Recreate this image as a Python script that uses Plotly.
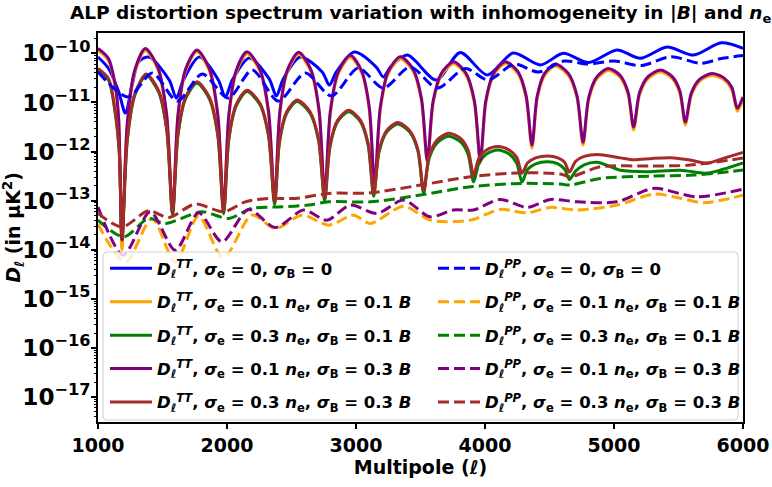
import numpy as np
import plotly.graph_objects as go

# ---------------- data (log10 of D_ell in uK^2) ----------------
# D_ell^TT, sigma_e = 0, sigma_B = 0
ell_tt_blue = [1000, 1082, 1160, 1212, 1264, 1315, 1395, 1552, 1607, 1662, 1785, 1932, 1987, 2042,
               2173, 2327, 2382, 2437, 2568, 2738, 2793, 2848, 2987, 3157, 3212, 3267, 3398, 3623,
               3808, 4018, 4219, 4429, 4607, 4803, 5023, 5204, 5411, 5617, 5832, 6000]
log_tt_blue = [-10.075, -10.31, -10.78, -11.217, -10.65, -10.17, -10.075, -10.544, -10.911, -10.544,
               -10.075, -10.54, -10.891, -10.54, -10.096, -10.52, -10.870, -10.52, -10.075, -10.38,
               -10.646, -10.38, -9.974, -10.28, -10.483, -10.28, -10.035, -10.544, -9.984, -10.442,
               -9.994, -10.238, -10.000, -10.188, -9.933, -10.102, -9.872, -10.035, -9.786, -9.898]

# D_ell^TT for the inhomogeneous cases (orange/purple share positions)
ell_tt_op = [1000, 1080, 1134, 1160, 1186, 1226, 1282, 1367, 1466, 1532, 1578, 1620, 1678, 1767,
             1864, 1928, 1974, 2014, 2070, 2155, 2256, 2322, 2369, 2410, 2468, 2555, 2650, 2713,
             2757, 2801, 2862, 2956, 3044, 3103, 3144, 3188, 3249, 3343, 3442, 3507, 3553, 3598,
             3661, 3757, 3854, 3918, 3964, 4006, 4066, 4157, 4254, 4318, 4364, 4404, 4460, 4545,
             4646, 4713, 4760, 4803, 4864, 4956, 5048, 5109, 5152, 5198, 5262, 5359, 5450, 5510,
             5553, 5599, 5663, 5760, 5852, 5913, 5956, 6000]
log_tt_purple = [-9.90, -10.10, -10.65, -11.32, -13.80, -11.46, -10.37, -9.90, -10.30, -11.24, -13.24,
                 -11.25, -10.33, -9.93, -10.32, -11.23, -13.19, -11.26, -10.36, -9.97, -10.33, -11.18,
                 -12.99, -11.18, -10.34, -9.98, -10.33, -11.14, -12.89, -11.18, -10.38, -10.04, -10.36,
                 -11.10, -12.68, -11.11, -10.38, -10.07, -10.32, -10.91, -12.18, -10.97, -10.41, -10.17,
                 -10.41, -10.97, -12.18, -10.97, -10.41, -10.17, -10.37, -10.85, -11.87, -10.88, -10.42,
                 -10.22, -10.41, -10.86, -11.81, -10.91, -10.49, -10.31, -10.45, -10.79, -11.50, -10.80,
                 -10.48, -10.34, -10.47, -10.76, -11.40, -10.81, -10.53, -10.41, -10.50, -10.69, -11.12,
                 -10.89]
log_tt_orange = [-9.94, -10.14, -10.69, -11.37, -14.00, -11.51, -10.41, -9.94, -10.34, -11.29, -13.30,
                 -11.30, -10.37, -9.97, -10.36, -11.28, -13.25, -11.31, -10.40, -10.01, -10.37, -11.23,
                 -13.05, -11.23, -10.38, -10.02, -10.37, -11.19, -12.95, -11.23, -10.42, -10.08, -10.40,
                 -11.15, -12.74, -11.16, -10.42, -10.11, -10.36, -10.96, -12.24, -11.02, -10.45, -10.21,
                 -10.45, -11.02, -12.24, -11.02, -10.45, -10.21, -10.41, -10.90, -11.93, -10.93, -10.46,
                 -10.26, -10.45, -10.91, -11.87, -10.96, -10.53, -10.35, -10.49, -10.84, -11.56, -10.85,
                 -10.52, -10.38, -10.51, -10.81, -11.46, -10.86, -10.57, -10.45, -10.54, -10.74, -11.18,
                 -10.94]

ell_tt_brown = [1000, 1082, 1134, 1165, 1186, 1227, 1286, 1374, 1470, 1533, 1578, 1620, 1678, 1767,
                1864, 1928, 1974, 2014, 2070, 2155, 2256, 2322, 2369, 2407, 2461, 2543, 2644, 2710,
                2757, 2798, 2856, 2943, 3034, 3094, 3137, 3178, 3236, 3324, 3418, 3480, 3524, 3567,
                3627, 3718, 3809, 3869, 3912, 3953, 4011, 4099, 4187, 4246, 4287, 4331, 4393, 4487,
                4565, 4617, 4654, 4702, 4769, 4871, 5048, 5152, 5300, 5463, 5600, 5721, 5847, 6000]
log_tt_brown = [-10.31, -10.52, -11.20, -12.00, -13.74, -11.75, -10.82, -10.42, -10.76, -11.54, -13.23,
                -11.64, -10.90, -10.58, -10.90, -11.63, -13.21, -11.73, -11.05, -10.75, -11.02, -11.66,
                -13.02, -11.78, -11.20, -10.95, -11.19, -11.75, -12.95, -11.88, -11.37, -11.16, -11.36,
                -11.84, -12.85, -11.99, -11.58, -11.41, -11.58, -11.96, -12.79, -12.09, -11.77, -11.63,
                -11.73, -11.97, -12.48, -12.13, -11.97, -11.90, -11.97, -12.12, -12.44, -12.23, -12.13,
                -12.09, -12.13, -12.22, -12.42, -12.20, -12.10, -12.06, -12.13, -12.17, -12.14, -12.13,
                -12.18, -12.24, -12.14, -12.02]

ell_tt_green = [1000, 1082, 1134, 1165, 1186, 1227, 1286, 1374, 1470, 1533, 1578, 1620, 1678, 1767,
                1864, 1928, 1974, 2014, 2070, 2155, 2256, 2322, 2369, 2407, 2461, 2543, 2644, 2710,
                2757, 2798, 2856, 2943, 3034, 3094, 3137, 3178, 3236, 3324, 3418, 3480, 3524, 3567,
                3627, 3718, 3809, 3869, 3912, 3953, 4011, 4099, 4187, 4246, 4287, 4331, 4393, 4487,
                4565, 4617, 4654, 4702, 4769, 4868, 5048, 5256, 5514, 5721, 5847, 6000]
log_tt_green = [-10.34, -10.55, -11.23, -12.03, -13.80, -11.78, -10.85, -10.45, -10.79, -11.57, -13.29,
                -11.67, -10.93, -10.61, -10.93, -11.66, -13.27, -11.76, -11.08, -10.78, -11.05, -11.69,
                -13.08, -11.81, -11.23, -10.98, -11.22, -11.78, -13.01, -11.91, -11.40, -11.19, -11.39,
                -11.87, -12.91, -12.02, -11.61, -11.44, -11.61, -11.99, -12.85, -12.14, -11.83, -11.69,
                -11.80, -12.06, -12.62, -12.24, -12.05, -11.97, -12.05, -12.24, -12.62, -12.36, -12.25,
                -12.21, -12.25, -12.36, -12.57, -12.40, -12.27, -12.22, -12.38, -12.41, -12.38, -12.44,
                -12.36, -12.23]

# D_ell^PP curves
ell_pp_blue = [1000, 1235, 1421, 1615, 1809, 2010, 2196, 2398, 2607, 2809, 3018, 3212, 3421, 3630,
               3847, 4025, 4227, 4413, 4615, 4793, 5002, 5212, 5444, 5669, 5832, 6000]
log_pp_blue = [-10.381, -10.891, -10.402, -10.972, -10.422, -10.911, -10.340, -10.972, -10.402,
               -10.870, -10.300, -10.707, -10.279, -10.707, -10.310, -10.544, -10.218, -10.381,
               -10.157, -10.218, -10.157, -10.249, -10.069, -10.204, -10.106, -10.045]

ell_pp_orange = [1000, 1212, 1419, 1599, 1780, 1971, 2194, 2374, 2581, 2788, 2981, 3111, 3369, 3576,
                 3886, 4119, 4326, 4506, 4713, 5023, 5307, 5489, 5695, 6000]
log_pp_orange = [-13.480, -14.254, -13.363, -14.254, -13.316, -14.172, -13.296, -13.567, -13.296,
                 -13.500, -13.296, -13.465, -13.113, -13.398, -13.398, -13.180, -13.249, -13.139,
                 -13.190, -13.092, -12.868, -12.935, -13.045, -12.888]

ell_pp_purple = [1000, 1196, 1405, 1599, 1780, 1961, 2167, 2374, 2594, 2775, 2956, 3163, 3369, 3576,
                 3754, 3909, 4119, 4326, 4506, 4713, 5023, 5307, 5643, 6000]
log_pp_purple = [-13.133, -14.111, -13.229, -14.009, -13.249, -13.840, -13.180, -13.547, -13.194,
                 -13.398, -13.092, -13.261, -12.990, -13.331, -13.190, -13.190, -12.976, -13.139,
                 -12.976, -13.025, -13.025, -12.752, -12.923, -12.766]

ell_pp_brown = [1000, 1186, 1392, 1547, 1754, 1974, 2142, 2322, 2530, 2788, 3111, 3499, 3886, 4274,
                4584, 4661, 4894, 5281, 5591, 6000]
log_pp_brown = [-13.261, -13.534, -13.208, -13.343, -13.072, -13.229, -13.025, -12.956, -12.956,
                -12.854, -12.842, -12.684, -12.515, -12.434, -12.460, -12.515, -12.311, -12.297,
                -12.277, -12.134]

ell_pp_green = [1000, 1199, 1392, 1522, 1806, 2012, 2194, 2426, 2633, 2788, 3111, 3499, 3886, 4274,
                4584, 4661, 4894, 5281, 5617, 6000]
log_pp_green = [-13.398, -13.738, -13.363, -13.465, -13.229, -13.363, -13.159, -13.127, -13.092,
                -13.025, -13.025, -12.888, -12.719, -12.650, -12.664, -12.684, -12.548, -12.501,
                -12.481, -12.379]

labels_tt = [
    "<b><i>D</i><sub><i>ℓ</i></sub><sup><i>TT</i></sup>, <i>σ</i><sub>e</sub> = 0, <i>σ</i><sub>B</sub> = 0</b>",
    "<b><i>D</i><sub><i>ℓ</i></sub><sup><i>TT</i></sup>, <i>σ</i><sub>e</sub> = 0.1 <i>n</i><sub>e</sub>, <i>σ</i><sub>B</sub> = 0.1 <i>B</i></b>",
    "<b><i>D</i><sub><i>ℓ</i></sub><sup><i>TT</i></sup>, <i>σ</i><sub>e</sub> = 0.3 <i>n</i><sub>e</sub>, <i>σ</i><sub>B</sub> = 0.1 <i>B</i></b>",
    "<b><i>D</i><sub><i>ℓ</i></sub><sup><i>TT</i></sup>, <i>σ</i><sub>e</sub> = 0.1 <i>n</i><sub>e</sub>, <i>σ</i><sub>B</sub> = 0.3 <i>B</i></b>",
    "<b><i>D</i><sub><i>ℓ</i></sub><sup><i>TT</i></sup>, <i>σ</i><sub>e</sub> = 0.3 <i>n</i><sub>e</sub>, <i>σ</i><sub>B</sub> = 0.3 <i>B</i></b>",
]
labels_pp = [s.replace("TT", "PP") for s in labels_tt]
colors = ["blue", "orange", "green", "purple", "brown"]

tt_series = [(ell_tt_blue, log_tt_blue), (ell_tt_op, log_tt_orange), (ell_tt_green, log_tt_green),
             (ell_tt_op, log_tt_purple), (ell_tt_brown, log_tt_brown)]
pp_series = [(ell_pp_blue, log_pp_blue), (ell_pp_orange, log_pp_orange), (ell_pp_green, log_pp_green),
             (ell_pp_purple, log_pp_purple), (ell_pp_brown, log_pp_brown)]

FONT = "DejaVu Sans"
fig = go.Figure()
for i, (ell, lg) in enumerate(tt_series):
    fig.add_trace(go.Scatter(
        x=ell, y=10 ** np.array(lg), mode="lines", name=labels_tt[i],
        line=dict(color=colors[i], width=3, shape="spline", smoothing=0.8),
        legend="legend", legendgroup=f"tt{i}"))
for i, (ell, lg) in enumerate(pp_series):
    fig.add_trace(go.Scatter(
        x=ell, y=10 ** np.array(lg), mode="lines", name=labels_pp[i],
        line=dict(color=colors[i], width=3, dash="11px,5px", shape="spline", smoothing=0.8),
        legend="legend2", legendgroup=f"pp{i}"))

L, R, T, B = 98, 29, 33, 65
W, H = 772, 487
pw, ph = W - L - R, H - T - B

def px_x(px):
    return (px - L) / pw

def px_y(py):
    return (H - B - py) / ph

# legend frame (white, semi transparent, light grey border, rounded corners)
x0, x1, y0, y1 = px_x(103), px_x(738), px_y(420), px_y(252)
rx, ry = 4 / pw, 4 / ph
frame_path = (f"M{x0 + rx},{y0} L{x1 - rx},{y0} Q{x1},{y0} {x1},{y0 + ry} "
              f"L{x1},{y1 - ry} Q{x1},{y1} {x1 - rx},{y1} L{x0 + rx},{y1} Q{x0},{y1} {x0},{y1 - ry} "
              f"L{x0},{y0 + ry} Q{x0},{y0} {x0 + rx},{y0} Z")
fig.add_shape(type="path", xref="paper", yref="paper", path=frame_path,
              fillcolor="rgba(255,255,255,0.8)", line=dict(color="#d0d0d0", width=1), layer="above")

leg_common = dict(xanchor="left", yanchor="top", bgcolor="rgba(0,0,0,0)", borderwidth=0,
                  font=dict(family=FONT, size=16.5, color="black"), itemwidth=42,
                  tracegroupgap=9, traceorder="grouped")
fig.update_layout(
    width=W, height=H,
    margin=dict(l=L, r=R, t=T, b=B, autoexpand=False),
    paper_bgcolor="white", plot_bgcolor="white",
    font=dict(family=FONT, color="black", weight="bold"),
    title=dict(text="<b>ALP distortion spectrum variation with inhomogeneity in |<i>B</i>| and <i>n</i><sub>e</sub></b>",
               x=70 / W, xref="container", xanchor="left", y=1 - 13 / H, yref="container", yanchor="middle",
               automargin=False, font=dict(family=FONT, size=18.5, color="black")),
    legend=dict(x=px_x(105), y=px_y(251), **leg_common),
    legend2=dict(x=px_x(433), y=px_y(251), **leg_common),
    xaxis=dict(range=[1000, 6000], tick0=1000, dtick=1000, ticks="outside", ticklen=5, tickwidth=1.5,
               tickcolor="black", showline=True, linewidth=1.5, linecolor="black", mirror=True,
               showgrid=False, zeroline=False, automargin=False,
               tickfont=dict(family=FONT, size=19, color="black"),
               title=dict(text="<b>Multipole (<i>ℓ</i>)</b>", font=dict(family=FONT, size=19), standoff=4)),
    yaxis=dict(type="log", range=[-17.51, -9.586], dtick=1, exponentformat="power", showexponent="all",
               ticks="outside", ticklen=5, tickwidth=1.5, tickcolor="black", showline=True, linewidth=1.5,
               linecolor="black", mirror=True, showgrid=False, zeroline=False, automargin=False,
               ticklabelstandoff=-3,
               minor=dict(ticks="outside", ticklen=2.5, tickwidth=1, tickcolor="black", dtick="D1", showgrid=False),
               tickfont=dict(family=FONT, size=18.5, color="black"),
               title=dict(text="<b><i>D</i><sub><i>ℓ</i></sub> (in μK<sup>2</sup>)</b>", font=dict(family=FONT, size=19),
                          standoff=0)),
    showlegend=True,
)

fig.write_html("out.html", config={"displayModeBar": False},
               post_script="document.body.style.margin='0';")
